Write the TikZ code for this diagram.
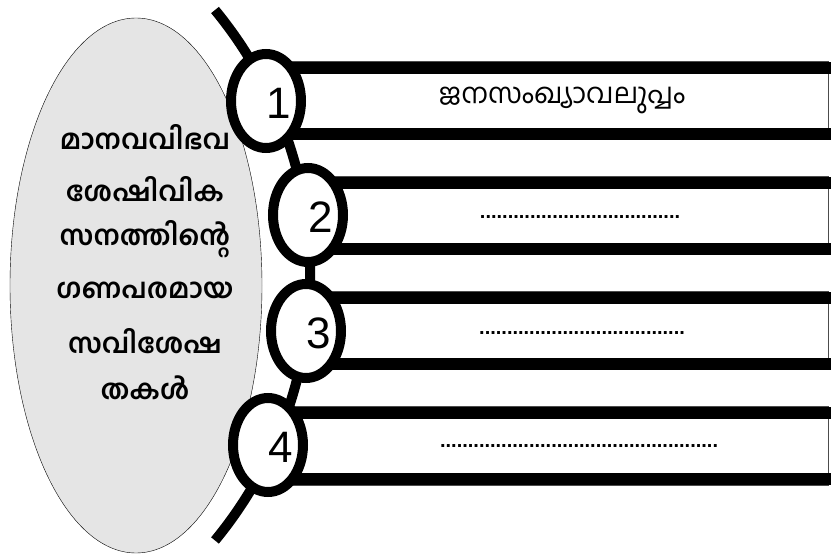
\documentclass[tikz,border=0pt]{standalone}
\usepackage{fontspec}
\setmainfont{Liberation Sans}
\newfontfamily\malfont[Script=Malayalam]{Hind Kochi}
\usetikzlibrary{shapes.geometric}

\tikzset{
	spine/.style={line width=10pt},
	knot/.style={ellipse, draw, line width=10pt, fill=white, minimum width=70pt, minimum height=94pt, inner sep=0pt},
	bar/.style={line width=12pt},
	rim/.style={line width=1pt, draw=black!70},
	maltext/.style={font=\malfont\bfseries\fontsize{27.5}{30}\selectfont},
	bandtext/.style={font=\malfont\fontsize{28}{30}\selectfont},
	dotted row/.style={font=\bfseries\fontsize{20}{20}\selectfont},
	digit/.style={font=\fontsize{44}{44}\selectfont}
}
\newcommand{\dotrow}[1]{\foreach \k in {1,...,#1}{.}}

\begin{document}
\begin{tikzpicture}[x=1pt, y=-1pt]
		\useasboundingbox (0,0) rectangle (831,556);

		\node[ellipse, draw, thin, fill=black!10, minimum width=252pt, minimum height=535pt] (res) at (136,285.5) {};

		\foreach \t/\y [count=\n] in {മാനവവിഭവ/137, ശേഷിവിക/189, സനത്തിന്റെ/239, ഗണപരമായ/290, സവിശേഷ/341, തകൾ/388}
			\node[maltext] (line\n) at (145,\y) {\t};

		\coordinate (top) at (215,10);
		\foreach \i/\x/\y in {1/266/101, 2/308/215, 3/306/331, 4/268/445}
			\coordinate (k\i) at (\x,\y);

		\draw[spine] (top) arc[start angle=-39.5, end angle=39.5, radius=417];

		\foreach \i/\y in {1/101, 2/216, 3/331, 4/446}
			{
				\draw[rim] (k\i |- 0,\y-39) rectangle (828,\y+39);
				\draw[bar] (k\i |- 0,\y-33) -- (831,\y-33);
				\draw[bar] (k\i |- 0,\y+33) -- (831,\y+33);
			}

		\foreach \i in {1, ..., 4}
			{
				\node[knot] (c\i) at (k\i) {};
				\node[digit] (num\i) at ([xshift=13pt, yshift=-2pt]c\i.center) {\i};
			}

		\node[bandtext] (t1) at (562,100) {ജനസംഖ്യാവലുപ്പം};
		\node[dotted row] (t2) at (580,217) {\dotrow{36}};
		\node[dotted row] (t3) at (582,333) {\dotrow{37}};
		\node[dotted row] (t4) at (579,446) {\dotrow{50}};

	\end{tikzpicture}
\end{document}
